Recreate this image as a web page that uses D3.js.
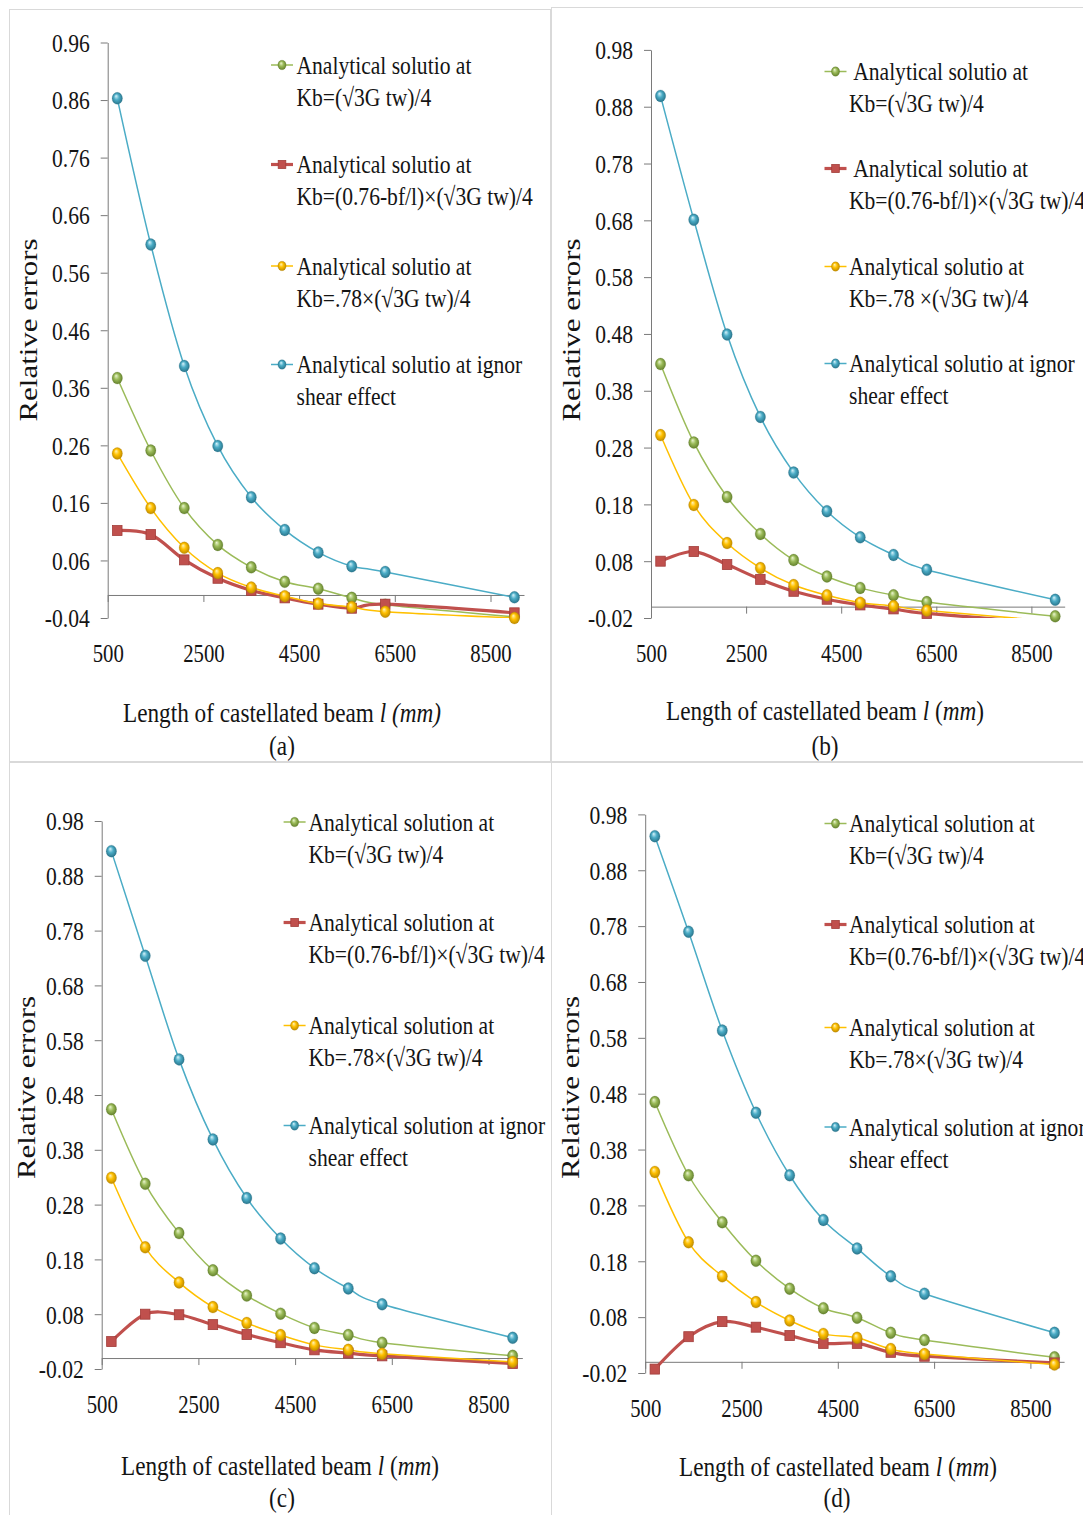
<!DOCTYPE html>
<html>
<head>
<meta charset="utf-8">
<script src="https://cdn.jsdelivr.net/npm/d3@7"></script>
<style>
  html, body { margin: 0; padding: 0; background: #ffffff; }
  svg { display: block; }
</style>
</head>
<body>
<svg id="fig" width="1083" height="1515"></svg>
<script>
// Beam lengths (mm) at which the relative errors were evaluated
const lengthMM = [700, 1400, 2100, 2800, 3500, 4200, 4900, 5600, 6300, 9000];

// Axis ticks
const xTickValues = [500, 2500, 4500, 6500, 8500];
const yTicksA = [-0.04, 0.06, 0.16, 0.26, 0.36, 0.46, 0.56, 0.66, 0.76, 0.86, 0.96];
const yTicksBCD = [-0.02, 0.08, 0.18, 0.28, 0.38, 0.48, 0.58, 0.68, 0.78, 0.88, 0.98];

// Panel (a)
const fullShearA = [0.377, 0.251, 0.151, 0.087, 0.048, 0.023, 0.011, -0.005, -0.017, -0.038];
const reducedA   = [0.112, 0.105, 0.061, 0.029, 0.008, -0.005, -0.016, -0.023, -0.016, -0.031];
const factorA    = [0.246, 0.151, 0.082, 0.038, 0.013, -0.002, -0.015, -0.021, -0.029, -0.040];
const noShearA   = [0.863, 0.609, 0.398, 0.259, 0.170, 0.113, 0.074, 0.050, 0.040, -0.004];

// Panel (b)
const fullShearB = [0.427, 0.289, 0.193, 0.128, 0.082, 0.053, 0.033, 0.020, 0.008, -0.017];
const reducedB   = [0.080, 0.097, 0.074, 0.048, 0.027, 0.013, 0.003, -0.004, -0.012, -0.030];
const factorB    = [0.302, 0.179, 0.112, 0.068, 0.038, 0.020, 0.007, 0.001, -0.007, -0.026];
const noShearB   = [0.899, 0.681, 0.479, 0.334, 0.236, 0.168, 0.122, 0.091, 0.065, 0.012];

// Panel (c)
const fullShearC = [0.454, 0.318, 0.228, 0.160, 0.114, 0.081, 0.055, 0.042, 0.028, 0.004];
const reducedC   = [0.030, 0.080, 0.079, 0.061, 0.043, 0.028, 0.015, 0.009, 0.004, -0.010];
const factorC    = [0.329, 0.202, 0.138, 0.093, 0.064, 0.042, 0.024, 0.015, 0.008, -0.007];
const noShearC   = [0.925, 0.734, 0.545, 0.399, 0.292, 0.218, 0.164, 0.127, 0.098, 0.037];

// Panel (d)
const fullShearD = [0.465, 0.334, 0.250, 0.181, 0.131, 0.096, 0.079, 0.052, 0.039, 0.008];
const reducedD   = [-0.013, 0.045, 0.072, 0.062, 0.047, 0.033, 0.033, 0.017, 0.010, -0.002];
const factorD    = [0.340, 0.214, 0.153, 0.107, 0.074, 0.050, 0.043, 0.023, 0.014, -0.005];
const noShearD   = [0.941, 0.770, 0.593, 0.446, 0.334, 0.254, 0.203, 0.153, 0.122, 0.052];

// Legend texts (two lines per entry)
const legendA = [
  ["Analytical solutio at", "Kb=(\u221A3G tw)/4"],
  ["Analytical solutio at", "Kb=(0.76-bf/l)\u00D7(\u221A3G tw)/4"],
  ["Analytical solutio at", "Kb=.78\u00D7(\u221A3G tw)/4"],
  ["Analytical solutio at ignor", "shear effect"]
];
const legendB = [
  [" Analytical solutio at", "Kb=(\u221A3G tw)/4"],
  [" Analytical solutio at", "Kb=(0.76-bf/l)\u00D7(\u221A3G tw)/4"],
  ["Analytical solutio at", "Kb=.78 \u00D7(\u221A3G tw)/4"],
  ["Analytical solutio at ignor", "shear effect"]
];
const legendCD = [
  ["Analytical solution at", "Kb=(\u221A3G tw)/4"],
  ["Analytical solution at", "Kb=(0.76-bf/l)\u00D7(\u221A3G tw)/4"],
  ["Analytical solution at", "Kb=.78\u00D7(\u221A3G tw)/4"],
  ["Analytical solution at ignor", "shear effect"]
];

const panelLabels = ["(a)", "(b)", "(c)", "(d)"];
const yAxisTitle = "Relative errors";

// ---------------------------------------------------------------
const FONT = '"Liberation Serif", "Times New Roman", serif';
const SX = 0.83;              // narrow set of the serif glyphs
const INK = "#141414";
const AXIS = "#7a7a7a";

const svg = d3.select("#fig");
const defs = svg.append("defs");

const seriesStyle = [
  { key: "full",    line: "#9bbb59", width: 1.5, shape: "ball",   light: "#eaf5cf", mid: "#9bbb59", dark: "#5d7a27" },
  { key: "reduced", line: "#c0504d", width: 3.2, shape: "square", fill: "#c0504d", edge: "#a23d3a" },
  { key: "factor",  line: "#ffc000", width: 1.5, shape: "ball",   light: "#fff4b8", mid: "#ffc000", dark: "#b58400" },
  { key: "noshear", line: "#4bacc6", width: 1.5, shape: "ball",   light: "#d6f3fb", mid: "#4bacc6", dark: "#256f85" }
];

seriesStyle.filter(s => s.shape === "ball").forEach(s => {
  const g = defs.append("radialGradient")
    .attr("id", "ball-" + s.key)
    .attr("cx", "50%").attr("cy", "50%").attr("r", "55%")
    .attr("fx", "38%").attr("fy", "30%");
  g.append("stop").attr("offset", "0%").attr("stop-color", s.light);
  g.append("stop").attr("offset", "45%").attr("stop-color", s.mid);
  g.append("stop").attr("offset", "100%").attr("stop-color", s.dark);
});

// Panel frames
const frames = [
  { x: 9.5,   y: 9.5,   w: 541, h: 752 },
  { x: 551.5, y: 7.5,   w: 540, h: 754 },
  { x: 9.5,   y: 762.5, w: 542, h: 760 },
  { x: 551.5, y: 762.5, w: 540, h: 760 }
];
svg.selectAll("rect.frame").data(frames).enter().append("rect")
  .attr("class", "frame")
  .attr("x", d => d.x).attr("y", d => d.y)
  .attr("width", d => d.w).attr("height", d => d.h)
  .attr("fill", "none").attr("stroke", "#d9d9d9").attr("stroke-width", 1);

const panels = [
  { id: "a", yTicks: yTicksA, series: [fullShearA, reducedA, factorA, noShearA], legend: legendA, italicParens: true,
    geo: { x0: 107.7, px2000: 95.7, yTop: 42.5, yBot: 618, ylabX: 37, ylabY: 330, titleX: 282, titleY: 722,
           letterX: 282, letterY: 755, legMarkX: 282, legTextX: 296.5, legY: [73.5, 173, 274.5, 373] } },
  { id: "b", yTicks: yTicksBCD, series: [fullShearB, reducedB, factorB, noShearB], legend: legendB, italicParens: false,
    geo: { x0: 651, px2000: 95.1, yTop: 49.9, yBot: 618, ylabX: 580, ylabY: 330, titleX: 825, titleY: 720,
           letterX: 825, letterY: 755, legMarkX: 835.5, legTextX: 849, legY: [80, 177, 275, 372] } },
  { id: "c", yTicks: yTicksBCD, series: [fullShearC, reducedC, factorC, noShearC], legend: legendCD, italicParens: false,
    geo: { x0: 101.7, px2000: 96.7, yTop: 821, yBot: 1369, ylabX: 35, ylabY: 1087.5, titleX: 280, titleY: 1475,
           letterX: 282, letterY: 1507, legMarkX: 294.6, legTextX: 308.5, legY: [830.5, 931, 1034, 1134] } },
  { id: "d", yTicks: yTicksBCD, series: [fullShearD, reducedD, factorD, noShearD], legend: legendCD, italicParens: false,
    geo: { x0: 645.2, px2000: 96.3, yTop: 814.4, yBot: 1373, ylabX: 579, ylabY: 1087.5, titleX: 838, titleY: 1476,
           letterX: 837, letterY: 1507, legMarkX: 835.5, legTextX: 849, legY: [832, 933, 1036, 1135.5] } }
];

const tickFmt = d => d.toFixed(2).replace("\u2212", "-");

function drawMarker(sel, s, cx, cy, scale) {
  if (s.shape === "ball") {
    sel.append("ellipse")
      .attr("cx", cx).attr("cy", cy)
      .attr("rx", 5.2 * scale).attr("ry", 6 * scale)
      .attr("fill", "url(#ball-" + s.key + ")")
      .attr("stroke", s.dark).attr("stroke-opacity", 0.35).attr("stroke-width", 0.6);
  } else {
    const w = 9.5 * scale, h = 10 * scale;
    sel.append("rect")
      .attr("x", cx - w / 2).attr("y", cy - h / 2)
      .attr("width", w).attr("height", h)
      .attr("fill", s.fill).attr("stroke", s.edge).attr("stroke-width", 0.8);
  }
}

function drawPanel(p, idx) {
  const G = p.geo;
  const g = svg.append("g").attr("class", "panel-" + p.id);

  const x = d3.scaleLinear().domain([500, 9200]).range([G.x0, G.x0 + 8700 / 2000 * G.px2000]);
  const yMin = p.yTicks[0], yMax = p.yTicks[p.yTicks.length - 1];
  const y = d3.scaleLinear().domain([yMin, yMax]).range([G.yBot, G.yTop]);

  // plot-area clip for the curves
  const clipId = "plot-clip-" + p.id;
  defs.append("clipPath").attr("id", clipId).append("rect")
    .attr("x", x.range()[0]).attr("y", G.yTop - 12)
    .attr("width", x.range()[1] - x.range()[0] + 8)
    .attr("height", G.yBot - G.yTop + 12);

  // vertical axis with tick labels
  const yAxis = d3.axisLeft(y).tickValues(p.yTicks).tickSize(7).tickSizeOuter(0).tickFormat(tickFmt);
  const ya = g.append("g")
    .attr("transform", `translate(${G.x0},0)`)
    .call(yAxis)
    .attr("font-family", FONT).attr("font-size", 26);
  ya.select(".domain").attr("stroke", AXIS);
  ya.selectAll(".tick line").attr("stroke", AXIS);
  ya.selectAll(".tick text")
    .attr("fill", INK)
    .attr("x", -18 / SX)
    .attr("dy", "0.34em")
    .attr("transform", `scale(${SX},1)`);

  // horizontal axis line at zero with downward ticks
  const xAxis = d3.axisBottom(x).tickValues(xTickValues).tickSize(7).tickSizeOuter(0).tickFormat("");
  const xa = g.append("g").attr("transform", `translate(0,${y(0)})`).call(xAxis);
  xa.select(".domain").attr("stroke", AXIS);
  xa.selectAll(".tick line").attr("stroke", AXIS);

  // horizontal tick labels sit below the plot area
  const xLabels = d3.axisBottom(x).tickValues(xTickValues).tickSize(0).tickPadding(0).tickFormat(d3.format("d"));
  const xl = g.append("g")
    .attr("transform", `translate(0,${G.yBot})`)
    .call(xLabels)
    .attr("font-family", FONT).attr("font-size", 25);
  xl.select(".domain").remove();
  xl.selectAll(".tick line").remove();
  xl.selectAll(".tick text")
    .attr("fill", INK)
    .attr("y", 44).attr("dy", 0)
    .attr("transform", `scale(${SX},1)`);

  // smoothed curves
  const line = d3.line()
    .x((d, i) => x(lengthMM[i]))
    .y(d => y(d))
    .curve(d3.curveCatmullRom.alpha(0));

  const curves = g.append("g").attr("clip-path", `url(#${clipId})`);
  p.series.forEach((vals, k) => {
    const s = seriesStyle[k];
    curves.append("path")
      .datum(vals)
      .attr("d", line)
      .attr("fill", "none")
      .attr("stroke", s.line)
      .attr("stroke-width", s.width)
      .attr("stroke-linejoin", "round");
  });

  // markers (drawn in series order so later series sit on top)
  p.series.forEach((vals, k) => {
    const s = seriesStyle[k];
    const mg = g.append("g");
    vals.forEach((v, i) => {
      if (v < yMin - 0.003) return;
      drawMarker(mg, s, x(lengthMM[i]), y(v), 1);
    });
  });

  // y-axis title
  g.append("text")
    .attr("transform", `translate(${G.ylabX},${G.ylabY}) scale(${SX},1) rotate(-90)`)
    .attr("text-anchor", "middle")
    .attr("font-family", FONT).attr("font-size", 31)
    .attr("fill", INK)
    .text(yAxisTitle);

  // x-axis title
  const t = g.append("text")
    .attr("transform", `translate(${G.titleX},${G.titleY}) scale(${SX},1)`)
    .attr("text-anchor", "middle")
    .attr("font-family", FONT).attr("font-size", 28)
    .attr("fill", INK);
  t.append("tspan").text("Length of castellated beam ");
  t.append("tspan").attr("font-style", "italic").text("l");
  if (p.italicParens) {
    t.append("tspan").attr("font-style", "italic").text(" (mm)");
  } else {
    t.append("tspan").text(" (");
    t.append("tspan").attr("font-style", "italic").text("mm");
    t.append("tspan").text(")");
  }

  // panel letter
  g.append("text")
    .attr("transform", `translate(${G.letterX},${G.letterY}) scale(${SX},1)`)
    .attr("text-anchor", "middle")
    .attr("font-family", FONT).attr("font-size", 28)
    .attr("fill", INK)
    .text(panelLabels[idx]);

  // legend
  const lg = g.append("g").attr("class", "legend");
  p.legend.forEach((lines, k) => {
    const s = seriesStyle[k];
    const base = G.legY[k];
    const my = base - 8.5;
    lg.append("line")
      .attr("x1", G.legMarkX - 11).attr("x2", G.legMarkX + 11)
      .attr("y1", my).attr("y2", my)
      .attr("stroke", s.line).attr("stroke-width", s.shape === "square" ? 3.2 : 1.5);
    drawMarker(lg, s, G.legMarkX, my, 0.8);
    lines.forEach((txt, j) => {
      lg.append("text")
        .attr("transform", `translate(${G.legTextX},${base + j * 32}) scale(${SX},1)`)
        .attr("font-family", FONT).attr("font-size", 26)
        .attr("fill", INK)
        .attr("xml:space", "preserve")
        .style("white-space", "pre")
        .text(txt);
    });
  });
}

panels.forEach(drawPanel);
</script>
</body>
</html>
